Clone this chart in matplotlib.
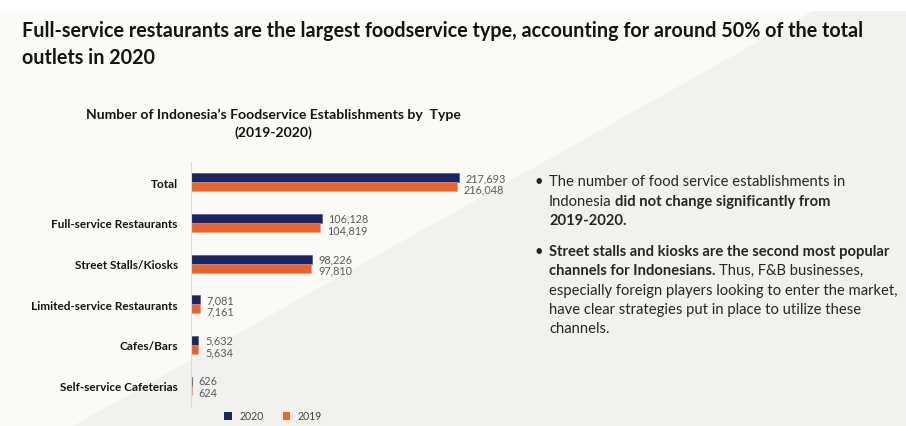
import matplotlib
matplotlib.use("Agg")
import matplotlib.pyplot as plt
from matplotlib.patches import Polygon, Patch

# ---------------------------------------------------------------------------
# data
# ---------------------------------------------------------------------------
categories = ["Total", "Full-service Restaurants", "Street Stalls/Kiosks",
              "Limited-service Restaurants", "Cafes/Bars", "Self-service Cafeterias"]
values_2020 = [217693, 106128, 98226, 7081, 5632, 626]
values_2019 = [216048, 104819, 97810, 7161, 5634, 624]
series_labels = ["2020", "2019"]

NAVY = "#1c2563"
ORANGE = "#e8642c"
FONT = "Lato"

plt.rcParams["font.family"] = [FONT, "DejaVu Sans"]

W, H = 906, 427
fig = plt.figure(figsize=(W / 100, H / 100), dpi=100)
fig.patch.set_facecolor("white")

# pixel-space backdrop axes (origin top-left)
bg = fig.add_axes([0, 0, 1, 1], zorder=-10)
bg.set_xlim(0, W)
bg.set_ylim(H, 0)
bg.axis("off")
bg.add_patch(Polygon([(0, 12), (W, 12), (W, H), (0, H)], closed=True,
                     facecolor="#fbfaf6", edgecolor="none"))
bg.add_patch(Polygon([(813, 12), (W, 12), (W, H), (73, H)], closed=True,
                     facecolor="#f2f1ee", edgecolor="none"))

renderer = fig.canvas.get_renderer()


def text_width(s, size, weight):
    t = bg.text(0, 0, s, fontsize=size, weight=weight)
    w = t.get_window_extent(renderer).width
    t.remove()
    return w


def put_runs(x, y, runs, size, color):
    """Write a line made of (text, bold) runs, one after the other."""
    for s, bold in runs:
        weight = "bold" if bold else "normal"
        bg.text(x, y, s, fontsize=size, weight=weight, color=color,
                ha="left", va="baseline")
        # advance past the run and the following space
        x += text_width(s + " x", size, weight) - text_width("x", size, weight)


# headline
title_lines = ["Full-service restaurants are the largest foodservice type, accounting for around 50% of the total",
               "outlets in 2020"]
for k, line in enumerate(title_lines):
    bg.text(22, 37 + 27 * k, line, fontsize=14.2, weight="bold", color="#141414",
            ha="left", va="baseline")

# chart title
bg.text(273, 119, "Number of Indonesia\u2019s Foodservice Establishments by  Type",
        fontsize=10.1, weight="bold", color="#141414", ha="center", va="baseline")
bg.text(273, 137, "(2019-2020)", fontsize=10.1, weight="bold", color="#141414",
        ha="center", va="baseline")

# ---------------------------------------------------------------------------
# bar chart
# ---------------------------------------------------------------------------
ax_left, ax_right, ax_top, ax_bottom = 191, 511, 163, 407
ax = fig.add_axes([ax_left / W, 1 - ax_bottom / H,
                   (ax_right - ax_left) / W, (ax_bottom - ax_top) / H])
ax.patch.set_alpha(0)

pos = list(range(len(categories)))
h = 0.22
ax.barh([p - h / 2 for p in pos], values_2020, height=h, color=NAVY,
        edgecolor="#3a4a9a", linewidth=0.4, label=series_labels[0])
ax.barh([p + h / 2 for p in pos], values_2019, height=h, color=ORANGE,
        edgecolor="#f0936a", linewidth=0.4, label=series_labels[1])

for p, v20, v19 in zip(pos, values_2020, values_2019):
    ax.annotate(f"{v20:,}", (v20, p - h / 2 - 0.01), xytext=(5, 0),
                textcoords="offset points", ha="left", va="center",
                fontsize=7.8, color="#595959")
    ax.annotate(f"{v19:,}", (v19, p + h / 2 + 0.05), xytext=(5, 0),
                textcoords="offset points", ha="left", va="center",
                fontsize=7.8, color="#595959")

ax.set_xlim(0, 260000)
ax.set_ylim(len(categories) - 0.5, -0.5)
ax.set_yticks(pos)
ax.set_yticklabels(categories, fontsize=8.5, weight="bold", color="#141414")
ax.tick_params(axis="y", length=0, pad=9.4)
ax.set_xticks([])
for side in ["top", "right", "bottom"]:
    ax.spines[side].set_visible(False)
ax.spines["left"].set_color("#d9d9d9")
ax.spines["left"].set_linewidth(0.8)

handles = [Patch(facecolor=NAVY, label=series_labels[0]),
           Patch(facecolor=ORANGE, label=series_labels[1])]
fig.legend(handles=handles, loc="center", bbox_to_anchor=(273 / W, 1 - 417 / H),
           ncol=2, frameon=False, fontsize=7.6, handlelength=0.7, handleheight=0.7,
           handletextpad=0.7, columnspacing=1.8, labelcolor="#404040")

# ---------------------------------------------------------------------------
# commentary
# ---------------------------------------------------------------------------
bullets = [
    [[("The number of food service establishments in", False)],
     [("Indonesia", False), ("did not change significantly from", True)],
     [("2019-2020.", True)]],
    [[("Street stalls and kiosks are the second most popular", True)],
     [("channels for Indonesians.", True), ("Thus, F&B businesses,", False)],
     [("especially foreign players looking to enter the market,", False)],
     [("have clear strategies put in place to utilize these", False)],
     [("channels.", False)]],
]
line_gap = 19.3
y = 186.5
for block in bullets:
    bg.text(535, y, "\u2022", fontsize=10.6, color="#262626", ha="left", va="baseline")
    for line in block:
        put_runs(549, y, line, 10.6, "#262626")
        y += line_gap
    y += 11.5

fig.savefig("out.png", dpi=100)
